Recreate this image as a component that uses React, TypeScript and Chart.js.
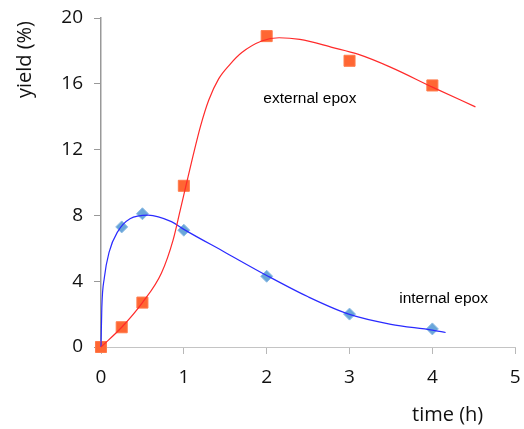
import React, { useEffect, useRef } from "react";
import { Chart, registerables } from "chart.js";

Chart.register(...registerables);

// measured points
const timeH = [0, 0.25, 0.5, 1, 2, 3, 4];
const externalYield = [0, 1.2, 2.7, 9.8, 18.9, 17.4, 15.9];
const internalYield = [0, 7.3, 8.1, 7.1, 4.3, 2.0, 1.1];

// smoothed trend curves
const externalCurveX = [0, 0.25, 0.5, 0.73, 0.87, 0.96, 1.03, 1.11, 1.2, 1.3, 1.42, 1.56, 1.7, 1.94, 2.15, 2.4, 2.8, 3.1, 3.5, 4.0, 4.52];
const externalCurveY = [0, 1.2, 2.7, 4.5, 6.5, 8.4, 9.9, 11.6, 13.4, 15.0, 16.3, 17.2, 17.9, 18.6, 18.8, 18.7, 18.2, 17.8, 17.0, 15.8, 14.6];
const internalCurveX = [0, 0.01, 0.04, 0.1, 0.2, 0.35, 0.57, 0.85, 1.0, 1.5, 2.0, 2.5, 3.0, 3.5, 4.0, 4.16];
const internalCurveY = [0, 2.4, 4.2, 5.8, 7.0, 7.8, 8.02, 7.62, 7.15, 5.75, 4.35, 3.05, 1.98, 1.38, 1.03, 0.88];

const xTicks = [0, 1, 2, 3, 4, 5];
const yTicks = [0, 4, 8, 12, 16, 20];

const labels = [
  { text: "external epox", x: 1.96, y: 15.1 },
  { text: "internal epox", x: 3.6, y: 2.96 },
];

const zip = (xs: number[], ys: number[]) => xs.map((x, i) => ({ x, y: ys[i] }));

const textPlugin = {
  id: "texts",
  afterDraw(chart: any) {
    const { ctx, chartArea, scales } = chart;
    ctx.save();
    ctx.fillStyle = "#000";
    ctx.font = "15.5px 'Liberation Sans', Arial, sans-serif";
    ctx.textBaseline = "middle";
    ctx.textAlign = "left";
    for (const l of labels) {
      ctx.fillText(l.text, scales.x.getPixelForValue(l.x), scales.y.getPixelForValue(l.y));
    }
    ctx.font = "20px 'Open Sans', 'Noto Sans', sans-serif";
    ctx.fillStyle = "#111";
    // x title
    ctx.textAlign = "right";
    ctx.fillText("time (h)", chartArea.right - 32, 415);
    // y title
    ctx.translate(25, chartArea.top + 3);
    ctx.rotate(-Math.PI / 2);
    ctx.textAlign = "right";
    ctx.fillText("yield (%)", 0, 0);
    ctx.restore();
  },
};

export default function App() {
  const ref = useRef<HTMLCanvasElement>(null);
  useEffect(() => {
    if (!ref.current) return;
    const chart = new Chart(ref.current, {
      type: "scatter",
      data: {
        datasets: [
          {
            label: "external curve",
            data: zip(externalCurveX, externalCurveY),
            showLine: true,
            borderColor: "#ff2a2a",
            borderWidth: 1.2,
            pointRadius: 0,
            cubicInterpolationMode: "monotone",
            fill: false,
            clip: false,
          },
          {
            label: "internal curve",
            data: zip(internalCurveX, internalCurveY),
            showLine: true,
            borderColor: "#2a2aff",
            borderWidth: 1.2,
            pointRadius: 0,
            cubicInterpolationMode: "monotone",
            fill: false,
            clip: false,
          },
          {
            label: "external epox",
            data: zip(timeH, externalYield),
            pointStyle: "rect",
            pointRadius: 7.8,
            backgroundColor: "#ff6633",
            borderColor: "#ff7a4a",
            borderWidth: 1,
            showLine: false,
            clip: false,
          },
          {
            label: "internal epox",
            data: zip(timeH, internalYield),
            pointStyle: "rectRot",
            pointRadius: 6,
            backgroundColor: "#6aa6da",
            borderColor: "#8fbde4",
            borderWidth: 1,
            showLine: false,
            clip: false,
          },
        ],
      } as any,
      options: {
        animation: false,
        responsive: false,
        maintainAspectRatio: false,
        layout: { padding: { top: 18, right: 4, left: 0, bottom: 0 } },
        plugins: { legend: { display: false }, tooltip: { enabled: false } },
        scales: {
          x: {
            type: "linear",
            min: 0,
            max: 5,
            afterBuildTicks: (s: any) => {
              s.ticks = xTicks.map((v) => ({ value: v }));
            },
            afterFit: (s: any) => {
              s.height = 82;
              s.paddingLeft = 0;
              s.paddingRight = 0;
            },
            ticks: {
              color: "#111",
              font: { family: "'Open Sans', 'Noto Sans', sans-serif", size: 19 },
              padding: 12,
            },
            grid: { display: true, drawOnChartArea: false, drawTicks: true, tickLength: 7, color: "#b8b8b8" },
            border: { display: true, color: "#c4c4c4", width: 1 },
          },
          y: {
            type: "linear",
            min: 0,
            max: 20,
            afterBuildTicks: (s: any) => {
              s.ticks = yTicks.map((v) => ({ value: v }));
            },
            afterFit: (s: any) => {
              s.width = 101;
              s.paddingTop = 0;
              s.paddingBottom = 0;
            },
            ticks: {
              color: "#111",
              font: { family: "'Open Sans', 'Noto Sans', sans-serif", size: 19 },
              padding: 11,
            },
            grid: { display: true, drawOnChartArea: false, drawTicks: true, tickLength: 7, color: "#999" },
            border: { display: true, color: "#999", width: 1.5 },
          },
        },
      } as any,
      plugins: [textPlugin],
    });
    return () => chart.destroy();
  }, []);
  return (
    <div style={{ position: "fixed", left: 0, top: 0, width: 524, height: 429, background: "#fff" }}>
      <canvas ref={ref} width={524} height={429} style={{ width: 524, height: 429 }} />
    </div>
  );
}
